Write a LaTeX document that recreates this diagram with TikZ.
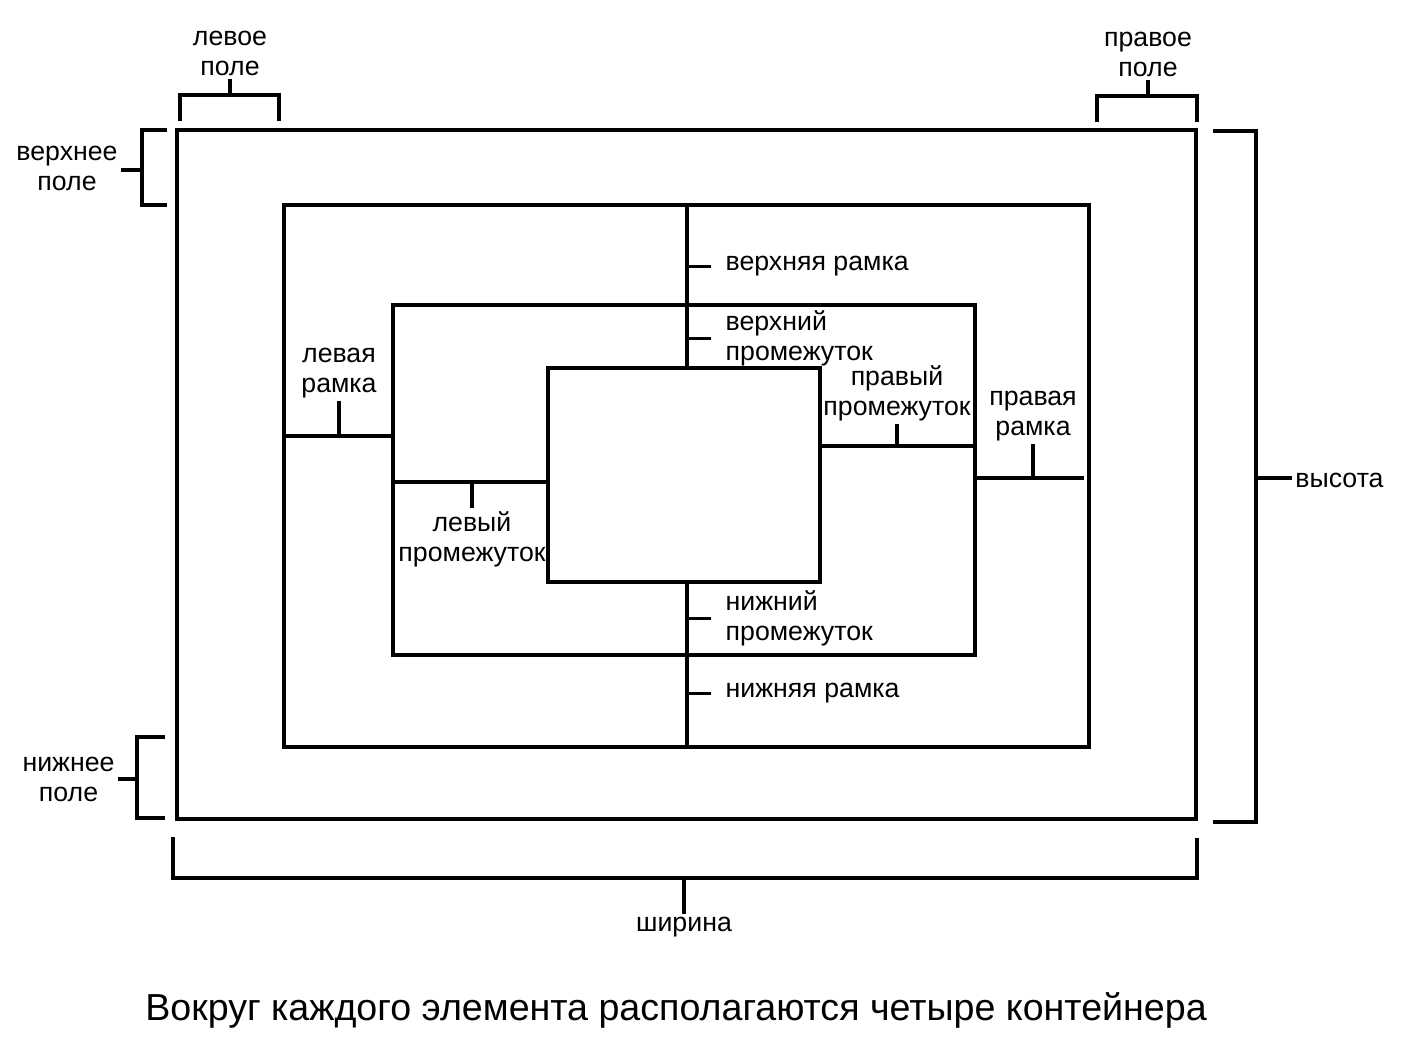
\documentclass[tikz,border=0pt]{standalone}
\usepackage{fontspec}
\setmainfont{Liberation Sans}
\usetikzlibrary{positioning}

\begin{document}
\begin{tikzpicture}[
    line width=0.95pt,
    box/.style={rectangle, draw, inner sep=0pt, outer sep=0pt},
    lbl/.style={font=\fontsize{7.6}{8.5}\selectfont, align=center, inner sep=0.5pt},
    tag/.style={lbl, anchor=west, inner xsep=3.7pt, inner ysep=0pt, align=left}
]
\useasboundingbox (0,0) rectangle (14.03,-10.41);

% the four boxes
\node[box, minimum width=10.19cm, minimum height=6.89cm] (outer) at (6.865,-4.745) {};
\node[box, minimum width=8.05cm, minimum height=5.42cm] (frame) at (6.865,-4.76) {};
\node[box, minimum width=5.82cm, minimum height=3.50cm] (pad) at (6.84,-4.80) {};
\node[box, minimum width=2.72cm, minimum height=2.14cm] (content) at (6.84,-4.75) {};

\coordinate (mid) at (6.87,0);
\coordinate (ylf) at (0,-4.36);
\coordinate (ylp) at (0,-4.82);
\coordinate (yrp) at (0,-4.46);
\coordinate (yrf) at (0,-4.78);

% top and bottom
\draw (frame.north -| mid) -- (content.north -| mid);
\draw (content.south -| mid) -- (frame.south -| mid);
\node[tag] (topframe) at (7.11,-2.665) {верхняя рамка};
\node[tag] (toppad) at (7.11,-3.385) {верхний\\промежуток};
\node[tag] (botpad) at (7.11,-6.185) {нижний\\промежуток};
\node[tag] (botframe) at (7.11,-6.935) {нижняя рамка};
\draw (mid |- topframe.west) -- (topframe.west);
\draw (mid |- toppad.west) -- (toppad.west);
\draw (mid |- botpad.west) -- (botpad.west);
\draw (mid |- botframe.west) -- (botframe.west);

% left side
\draw (frame.west |- ylf) -- (pad.west |- ylf);
\node[lbl, anchor=south] (leftframe) at (3.39,-4.01) {левая\\рамка};
\draw (leftframe.south) -- (leftframe.south |- ylf);
\draw (pad.west |- ylp) -- (content.west |- ylp);
\node[lbl, anchor=north] (leftpad) at (4.72,-5.08) {левый\\промежуток};
\draw (leftpad.north) -- (leftpad.north |- ylp);

% right side
\draw (content.east |- yrp) -- (pad.east |- yrp);
\node[lbl, anchor=south] (rightpad) at (8.97,-4.24) {правый\\промежуток};
\draw (rightpad.south) -- (rightpad.south |- yrp);
\draw[shorten >=1.5pt] (pad.east |- yrf) -- (frame.east |- yrf);
\node[lbl, anchor=south] (rightframe) at (10.33,-4.44) {правая\\рамка};
\draw (rightframe.south) -- (rightframe.south |- yrf);

% margins
\node[lbl] (leftmar) at (2.30,-0.53) {левое\\поле};
\draw (1.80,-1.21) -- (1.80,-0.95) -- (2.79,-0.95) -- (2.79,-1.21);
\draw (leftmar.south |- 0,-0.95) -- (leftmar.south);
\node[lbl] (rightmar) at (11.48,-0.54) {правое\\поле};
\draw (10.97,-1.22) -- (10.97,-0.96) -- (11.97,-0.96) -- (11.97,-1.22);
\draw (rightmar.south |- 0,-0.96) -- (rightmar.south);
\node[lbl, anchor=east] (topmar) at (1.21,-1.68) {верхнее\\поле};
\draw (1.67,-1.30) -- (1.42,-1.30) -- (1.42,-2.05) -- (1.67,-2.05);
\draw (1.42,-1.70) -- (topmar.east |- 0,-1.70);
\node[lbl, anchor=east] (botmar) at (1.18,-7.79) {нижнее\\поле};
\draw (1.65,-7.37) -- (1.37,-7.37) -- (1.37,-8.18) -- (1.65,-8.18);
\draw (1.37,-7.79) -- (botmar.east |- 0,-7.79);

% height and width
\node[lbl, anchor=west] (height) at (12.92,-4.80) {высота};
\draw (12.13,-1.31) -- (12.56,-1.31) -- (12.56,-8.22) -- (12.13,-8.22);
\draw (12.56,-4.78) -- (height.west |- 0,-4.78);
\node[lbl, anchor=north] (width) at (6.84,-9.14) {ширина};
\draw (1.73,-8.37) -- (1.73,-8.78) -- (11.97,-8.78) -- (11.97,-8.38);
\draw (width.north |- 0,-8.78) -- (width.north);

\node[font=\fontsize{10.7}{12}\selectfont] (caption) at (6.76,-10.10) {Вокруг каждого элемента располагаются четыре контейнера};
\end{tikzpicture}
\end{document}
